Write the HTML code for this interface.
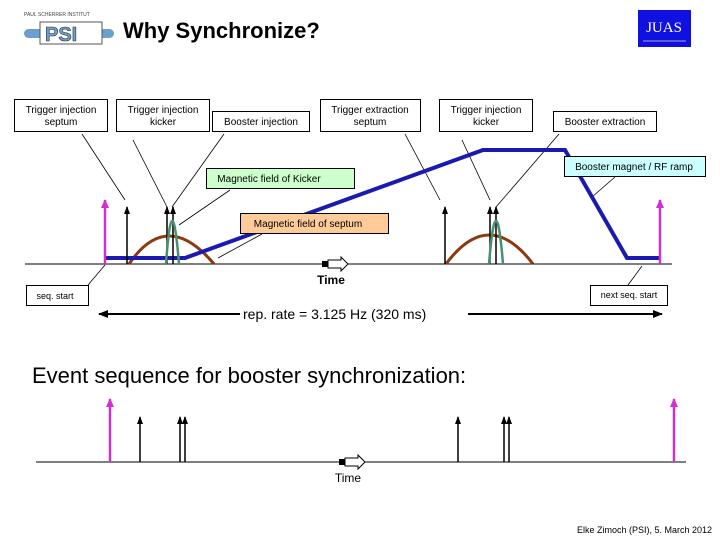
<!DOCTYPE html>
<html><head><meta charset="utf-8"><style>
html,body{margin:0;padding:0;background:#fff;}
svg{display:block;font-family:"Liberation Sans",sans-serif;}
</style></head><body>
<svg width="720" height="540" viewBox="0 0 720 540" xmlns="http://www.w3.org/2000/svg">
<defs>
<marker id="ab" markerWidth="8" markerHeight="6" refX="7" refY="3" orient="auto" markerUnits="userSpaceOnUse"><path d="M0,0 L8,3 L0,6 Z" fill="#000"/></marker>
<marker id="am" markerWidth="9" markerHeight="8" refX="8" refY="4" orient="auto" markerUnits="userSpaceOnUse"><path d="M0,0 L9,4 L0,8 Z" fill="#d030d0"/></marker>
<marker id="ah" markerWidth="10" markerHeight="8" refX="9" refY="4" orient="auto" markerUnits="userSpaceOnUse"><path d="M0,0 L10,4 L0,8 Z" fill="#000"/></marker>
</defs>
<!-- header -->
<text x="24" y="16" font-size="5" fill="#444">PAUL SCHERRER INSTITUT</text>
<rect x="24" y="29" width="90" height="9" rx="4.5" fill="#6a9fd0"/>
<rect x="40" y="22" width="62" height="22" fill="#fff" stroke="#555"/>
<text x="45" y="41" font-size="20" font-weight="bold" fill="#6a9fd0" stroke="#333" stroke-width="0.6">PSI</text>
<text x="123" y="38" font-size="22" font-weight="bold">Why Synchronize?</text>
<rect x="638" y="10" width="53" height="37" fill="#1010e0"/>
<text x="664" y="32" font-size="15" font-family="Liberation Serif,serif" fill="#fff" text-anchor="middle">JUAS</text>
<line x1="643" y1="41" x2="686" y2="41" stroke="#aab" stroke-width="1"/>

<!-- leader lines -->
<g stroke="#000" stroke-width="0.8">
<line x1="82" y1="134" x2="125" y2="200"/>
<line x1="133" y1="140" x2="167" y2="207"/>
<line x1="224" y1="134" x2="172" y2="207"/>
<line x1="230" y1="190" x2="179" y2="225"/>
<line x1="262" y1="234" x2="218" y2="258"/>
<line x1="405" y1="134" x2="440" y2="200"/>
<line x1="462" y1="140" x2="490" y2="200"/>
<line x1="559" y1="134" x2="496" y2="207"/>
<line x1="615" y1="177" x2="592" y2="197"/>
<line x1="88" y1="285" x2="105" y2="265"/>
<line x1="628" y1="285" x2="642" y2="266"/>
</g>

<!-- baseline -->
<line x1="25" y1="264" x2="672" y2="264" stroke="#000" stroke-width="1"/>
<path d="M129,264 Q167,208 214,264" fill="none" stroke="#8b3a10" stroke-width="3"/>
<path d="M446,264 Q489,206 533,264" fill="none" stroke="#8b3a10" stroke-width="3"/>
<polyline points="105,258 185,258 483,150 565,150 627,258 660,258" fill="none" stroke="#1a1ab0" stroke-width="4"/>
<g stroke="#000" stroke-width="1.5">
<line x1="127" y1="264" x2="127" y2="207" marker-end="url(#ab)"/>
<line x1="167" y1="264" x2="167" y2="207" marker-end="url(#ab)"/>
<line x1="173" y1="264" x2="173" y2="207" marker-end="url(#ab)"/>
<line x1="445" y1="264" x2="445" y2="207" marker-end="url(#ab)"/>
<line x1="490" y1="264" x2="490" y2="207" marker-end="url(#ab)"/>
<line x1="496" y1="264" x2="496" y2="207" marker-end="url(#ab)"/>
</g>
<path d="M166,264 Q172,178 179,264" fill="none" stroke="#4a9070" stroke-width="2.5"/>
<path d="M489,264 Q496,178 503,264" fill="none" stroke="#4a9070" stroke-width="2.5"/>
<g stroke="#d030d0" stroke-width="2.5">
<line x1="105" y1="264" x2="105" y2="200" marker-end="url(#am)"/>
<line x1="660" y1="264" x2="660" y2="200" marker-end="url(#am)"/>
</g>
<rect x="322" y="261" width="6" height="6" fill="#000"/>
<path d="M328,260 L341,260 L341,257 L348,264 L341,271 L341,268 L328,268 Z" fill="#fff" stroke="#000"/>
<text x="331" y="284" font-size="12" font-weight="bold" text-anchor="middle">Time</text>

<!-- label boxes -->
<g font-size="10" text-anchor="middle" stroke-width="1">
<rect x="14.5" y="99.5" width="93" height="32" fill="#fff" stroke="#000"/>
<text x="61" y="113">Trigger injection</text><text x="61" y="125">septum</text>
<rect x="116.5" y="99.5" width="93" height="32" fill="#fff" stroke="#000"/>
<text x="163" y="113">Trigger injection</text><text x="163" y="125">kicker</text>
<rect x="212.5" y="111.5" width="97" height="20" fill="#fff" stroke="#000"/>
<text x="261" y="125">Booster injection</text>
<rect x="320.5" y="99.5" width="100" height="32" fill="#fff" stroke="#000"/>
<text x="370" y="113">Trigger extraction</text><text x="370" y="125">septum</text>
<rect x="439.5" y="99.5" width="93" height="32" fill="#fff" stroke="#000"/>
<text x="486" y="113">Trigger injection</text><text x="486" y="125">kicker</text>
<rect x="553.5" y="111.5" width="103" height="20" fill="#fff" stroke="#000"/>
<text x="605" y="125">Booster extraction</text>
<rect x="564.5" y="156.5" width="141" height="20" fill="#ccffff" stroke="#000"/>
<text x="634" y="170">Booster magnet / RF ramp</text>
<rect x="206.5" y="168.5" width="148" height="20" fill="#ccffcc" stroke="#000"/>
<text x="269" y="182">Magnetic field of Kicker</text>
<rect x="240.5" y="213.5" width="148" height="20" fill="#ffcc99" stroke="#000"/>
<text x="308" y="227">Magnetic field of septum</text>
<rect x="26.5" y="285.5" width="62" height="20" fill="#fff" stroke="#000"/>
<text x="55" y="299" font-size="9">seq. start</text>
<rect x="590.5" y="285.5" width="77" height="20" fill="#fff" stroke="#000"/>
<text x="629" y="298" font-size="9">next seq. start</text>
</g>

<!-- rep rate -->
<line x1="240" y1="314" x2="99" y2="314" stroke="#000" stroke-width="2" marker-end="url(#ah)"/>
<line x1="468" y1="314" x2="662" y2="314" stroke="#000" stroke-width="2" marker-end="url(#ah)"/>
<text x="243" y="319" font-size="14">rep. rate = 3.125 Hz  (320 ms)</text>

<!-- event sequence -->
<text x="32" y="383" font-size="22">Event sequence for booster synchronization:</text>
<line x1="36" y1="462" x2="686" y2="462" stroke="#000" stroke-width="1"/>
<g stroke="#000" stroke-width="1.5">
<line x1="140" y1="462" x2="140" y2="417" marker-end="url(#ab)"/>
<line x1="180" y1="462" x2="180" y2="417" marker-end="url(#ab)"/>
<line x1="185" y1="462" x2="185" y2="417" marker-end="url(#ab)"/>
<line x1="458" y1="462" x2="458" y2="417" marker-end="url(#ab)"/>
<line x1="504" y1="462" x2="504" y2="417" marker-end="url(#ab)"/>
<line x1="509" y1="462" x2="509" y2="417" marker-end="url(#ab)"/>
</g>
<g stroke="#d030d0" stroke-width="2.5">
<line x1="110" y1="462" x2="110" y2="399" marker-end="url(#am)"/>
<line x1="674" y1="462" x2="674" y2="399" marker-end="url(#am)"/>
</g>
<rect x="339" y="459" width="6" height="6" fill="#000"/>
<path d="M345,458 L358,458 L358,455 L365,462 L358,469 L358,466 L345,466 Z" fill="#fff" stroke="#000"/>
<text x="348" y="482" font-size="12" text-anchor="middle">Time</text>

<text x="712" y="533" font-size="9" text-anchor="end">Elke Zimoch (PSI), 5. March 2012</text>
</svg>
</body></html>
